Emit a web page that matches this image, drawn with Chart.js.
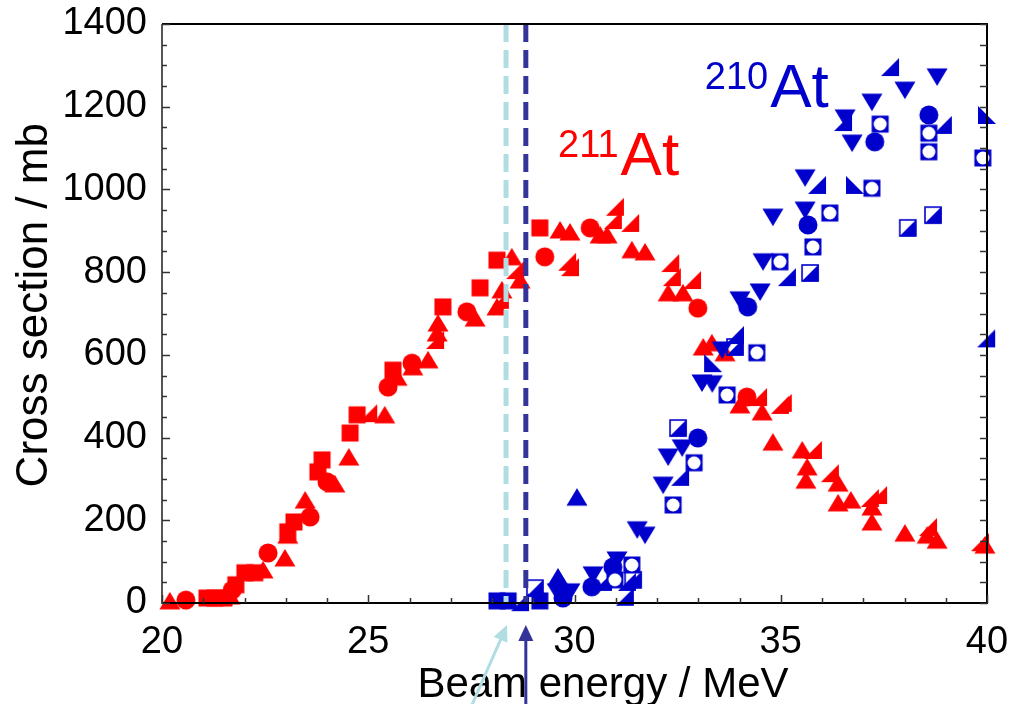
<!DOCTYPE html>
<html>
<head>
<meta charset="utf-8">
<title>Cross section vs beam energy</title>
<script src="https://cdn.jsdelivr.net/npm/chart.js@4.4.1/dist/chart.umd.min.js"></script>
<style>
  html, body { margin: 0; padding: 0; background: #ffffff; }
  #wrap { width: 1011px; height: 704px; }
</style>
</head>
<body>
<div id="wrap"><canvas id="chart" width="1011" height="704"></canvas></div>
<script>
// --- Datos: [energía MeV, sección eficaz mb] ---

// 211At (rojo)
const red211Squares = [
  [21.09, 12], [21.28, 12], [21.5, 12], [21.79, 44], [22.01, 73], [22.25, 73],
  [23.05, 172], [23.2, 196], [23.78, 317], [23.88, 346], [24.56, 411], [24.73, 455],
  [25.6, 563], [26.81, 716], [27.71, 762], [28.12, 829], [29.16, 907]
];
const red211Circles = [
  [20.58, 7], [21.7, 31], [22.57, 121], [23.59, 208], [24.0, 293], [25.48, 522],
  [26.06, 580], [27.39, 704], [29.28, 837], [30.38, 907], [32.99, 713], [34.18, 498]
];
const red211Up = [
  [20.19, 5], [21.65, 17], [22.45, 80], [22.98, 109], [23.05, 164], [23.47, 249],
  [24.19, 288], [24.53, 353], [25.4, 455], [25.7, 546], [26.08, 571], [26.45, 588],
  [26.67, 653], [26.69, 677], [27.59, 689], [28.12, 716], [28.24, 757], [28.48, 837],
  [28.68, 781], [29.65, 902], [29.89, 897], [30.62, 890], [30.79, 890], [31.39, 854],
  [31.71, 849], [32.27, 750], [32.63, 750], [33.12, 619], [33.33, 629], [33.65, 605],
  [34.01, 479], [34.55, 462], [34.81, 389], [35.52, 370], [35.64, 329], [35.61, 297],
  [36.39, 290], [36.39, 242], [36.7, 249], [37.21, 232], [37.21, 196], [38.01, 169],
  [38.55, 164], [38.79, 152], [39.95, 140]
];
const red211RightTri = [
  [25.0, 459], [26.62, 636], [28.19, 733], [28.56, 805], [29.82, 825], [29.89, 812],
  [30.98, 958], [30.93, 926], [31.35, 919], [32.32, 822], [32.36, 788], [32.85, 781],
  [34.45, 498], [34.98, 479], [35.05, 484], [35.78, 370], [36.19, 314], [37.16, 254],
  [37.36, 261], [38.57, 184], [39.83, 147]
];

// 210At (azul)
const blue210Squares = [[28.12, 5], [28.39, 5], [29.16, 5]];
const blue210Down = [
  [29.58, 27], [29.89, 27], [30.45, 68], [31.03, 104], [31.52, 177], [31.71, 164],
  [32.15, 285], [32.27, 353], [32.61, 375], [33.09, 532], [33.34, 530], [33.58, 612],
  [34.01, 733], [34.5, 752], [34.57, 825], [34.81, 933], [35.59, 1028], [35.59, 950],
  [36.56, 1173], [36.73, 1112], [37.21, 1211], [38.01, 1240], [38.79, 1272]
];
const blue210Circles = [
  [29.72, 12], [30.42, 39], [30.93, 87], [32.99, 399], [34.2, 716], [35.66, 914],
  [37.28, 1115], [38.59, 1180]
];
const blue210Ring = [
  [30.98, 56], [31.39, 92], [32.39, 237], [32.9, 339], [33.7, 503], [34.42, 605],
  [34.98, 825], [35.78, 861], [36.19, 943], [37.21, 1003], [37.41, 1158], [38.59, 1136],
  [38.59, 1091], [39.9, 1076]
];
const blue210Half = [
  [29.04, 36], [31.42, 56], [32.51, 423], [33.89, 619], [35.71, 798], [38.08, 907], [38.69, 938]
];
const blue210RightTri = [
  [28.68, 2], [30.69, 51], [31.22, 15], [31.27, 51], [32.56, 305], [33.89, 648],
  [35.15, 788], [35.88, 1011], [36.51, 1163], [37.65, 1296], [38.93, 1156], [39.98, 640]
];
const blue210LeftTri = [[33.36, 580], [36.8, 1011], [40.0, 1180]];
const blue210Up = [[29.6, 63], [30.06, 256]];

// Líneas de referencia (MeV) y etiquetas de isótopos
const refLines = [28.34, 28.82];
const isoLabels = [
  { mass: '211', x: 29.6, y: 1035, color: '#ff0000' },
  { mass: '210', x: 33.16, y: 1199, color: '#0000cc' }
];
const xTitle = 'Beam energy / MeV';
const yTitle = 'Cross section / mb';

const FONT = '"Liberation Sans", Arial, sans-serif';
const RED = '#ff0000';
const BLUE = '#0000cc';
const LIGHT = '#b0dde2';
const DARK = '#333399';

// Marcadores dibujados en canvas pequeños
function marker(kind, color) {
  const s = 24, m = s / 2;
  const c = document.createElement('canvas');
  c.width = s; c.height = s;
  const g = c.getContext('2d');
  g.fillStyle = color; g.strokeStyle = color;
  const tri = (pts) => { g.beginPath(); g.moveTo(pts[0][0], pts[0][1]); pts.slice(1).forEach(p => g.lineTo(p[0], p[1])); g.closePath(); g.fill(); };
  switch (kind) {
    case 'square': g.fillRect(m - 8.5, m - 8.5, 17, 17); break;
    case 'circle': g.beginPath(); g.arc(m, m, 9.5, 0, Math.PI * 2); g.fill(); break;
    case 'up': tri([[m, m - 9], [m + 10.5, m + 8.5], [m - 10.5, m + 8.5]]); break;
    case 'down': tri([[m - 10.5, m - 8.5], [m + 10.5, m - 8.5], [m, m + 9]]); break;
    case 'rtri': tri([[m + 9, m - 9], [m + 9, m + 9], [m - 9, m + 9]]); break;
    case 'ltri': tri([[m - 9, m - 9], [m - 9, m + 9], [m + 9, m + 9]]); break;
    case 'half':
      g.lineWidth = 1.6;
      g.strokeRect(m - 8, m - 8, 16, 16);
      tri([[m + 8.5, m - 8.5], [m + 8.5, m + 8.5], [m - 8.5, m + 8.5]]);
      break;
    case 'ring':
      g.fillRect(m - 8.5, m - 8.5, 17, 17);
      g.fillStyle = '#ffffff';
      g.beginPath(); g.arc(m, m, 6.5, 0, Math.PI * 2); g.fill();
      break;
  }
  return c;
}

const toXY = (arr) => arr.map(p => ({ x: p[0], y: p[1] }));
const ds = (label, arr, kind, color) => ({
  label, data: toXY(arr), pointStyle: marker(kind, color),
  pointRadius: 10, showLine: false, clip: false
});

// Azul primero: Chart.js dibuja el índice 0 al final (encima)
const datasets = [
  ds('210 ring', blue210Ring, 'ring', BLUE),
  ds('210 half', blue210Half, 'half', BLUE),
  ds('210 down', blue210Down, 'down', BLUE),
  ds('210 circle', blue210Circles, 'circle', BLUE),
  ds('210 rtri', blue210RightTri, 'rtri', BLUE),
  ds('210 ltri', blue210LeftTri, 'ltri', BLUE),
  ds('210 up', blue210Up, 'up', BLUE),
  ds('210 square', blue210Squares, 'square', BLUE),
  ds('211 rtri', red211RightTri, 'rtri', RED),
  ds('211 circle', red211Circles, 'circle', RED),
  ds('211 up', red211Up, 'up', RED),
  ds('211 square', red211Squares, 'square', RED)
];

function arrow(c, x0, y0, x1, y1, color) {
  const ang = Math.atan2(y1 - y0, x1 - x0);
  const L = 16, W = 7.5;
  c.save();
  c.strokeStyle = color; c.fillStyle = color; c.lineWidth = 3;
  c.beginPath();
  c.moveTo(x0, y0);
  c.lineTo(x1 - Math.cos(ang) * L * 0.8, y1 - Math.sin(ang) * L * 0.8);
  c.stroke();
  c.beginPath();
  c.moveTo(x1, y1);
  c.lineTo(x1 - L * Math.cos(ang) + W * Math.sin(ang), y1 - L * Math.sin(ang) - W * Math.cos(ang));
  c.lineTo(x1 - L * Math.cos(ang) - W * Math.sin(ang), y1 - L * Math.sin(ang) + W * Math.cos(ang));
  c.closePath();
  c.fill();
  c.restore();
}

// Quita el relleno extra que Chart.js reserva para las etiquetas
const noScalePadding = (s) => { s.paddingTop = 0; s.paddingBottom = 0; s.paddingLeft = 0; s.paddingRight = 0; };

// Plugin: líneas discontinuas, marco con marcas hacia dentro, flechas y etiquetas
const decor = {
  id: 'decor',
  afterDatasetsDraw(chart) {
    const c = chart.ctx;
    const { top, bottom } = chart.chartArea;
    const xs = chart.scales.x;
    c.save();
    c.lineWidth = 5;
    c.setLineDash([18, 8]);
    [LIGHT, DARK].forEach((col, i) => {
      const px = xs.getPixelForValue(refLines[i]);
      c.strokeStyle = col;
      c.beginPath(); c.moveTo(px, top); c.lineTo(px, bottom); c.stroke();
    });
    c.restore();
  },
  afterDraw(chart) {
    const c = chart.ctx;
    const { left, right, top, bottom } = chart.chartArea;
    const xs = chart.scales.x, ys = chart.scales.y;
    c.save();
    // marco
    c.lineWidth = 2;
    c.strokeStyle = '#555555';
    c.beginPath(); c.moveTo(left, top); c.lineTo(left, bottom); c.lineTo(right, bottom); c.stroke();
    c.strokeStyle = '#000000';
    c.beginPath(); c.moveTo(left, bottom); c.lineTo(right, bottom); c.lineTo(right, top); c.lineTo(left, top); c.stroke();
    // marcas
    c.lineWidth = 1.5;
    c.strokeStyle = '#333333';
    for (let v = 0; v <= 1400; v += 50) {
      const py = Math.round(ys.getPixelForValue(v)) + 0.5;
      const len = v % 200 === 0 ? 8 : 5;
      c.beginPath(); c.moveTo(left, py); c.lineTo(left + len, py); c.stroke();
      c.beginPath(); c.moveTo(right, py); c.lineTo(right - 7, py); c.stroke();
    }
    for (let v = 20; v <= 40; v += 1) {
      const px = Math.round(xs.getPixelForValue(v)) + 0.5;
      const len = v % 5 === 0 ? 8 : 5;
      c.beginPath(); c.moveTo(px, bottom); c.lineTo(px, bottom - len); c.stroke();
    }
    c.restore();

    // títulos de ejes
    c.save();
    c.fillStyle = '#000000';
    c.textAlign = 'center';
    c.textBaseline = 'alphabetic';
    c.font = '42px ' + FONT;
    c.fillText(xTitle, xs.getPixelForValue(30.69), bottom + 94);
    c.font = '44px ' + FONT;
    c.translate(47, ys.getPixelForValue(720));
    c.rotate(-Math.PI / 2);
    c.fillText(yTitle, 0, 0);
    c.restore();

    // flechas bajo el eje
    const p0 = xs.getPixelForValue(refLines[0]);
    const p1 = xs.getPixelForValue(refLines[1]);
    arrow(c, p0 - 35, bottom + 104, p0 + 1, bottom + 22, LIGHT);
    arrow(c, p1, bottom + 104, p1, bottom + 22, DARK);

    // etiquetas de isótopos
    c.save();
    c.textBaseline = 'alphabetic';
    c.textAlign = 'left';
    isoLabels.forEach(l => {
      const px = xs.getPixelForValue(l.x);
      const py = ys.getPixelForValue(l.y);
      c.fillStyle = l.color;
      c.font = '38px ' + FONT;
      c.fillText(l.mass, px, py - 18);
      const w = c.measureText(l.mass).width;
      c.font = '62px ' + FONT;
      c.fillText('At', px + w + 2, py);
    });
    c.restore();
  }
};

new Chart(document.getElementById('chart'), {
  type: 'scatter',
  data: { datasets },
  options: {
    responsive: false,
    animation: false,
    devicePixelRatio: 1,
    layout: { padding: { top: 24, right: 24, left: 0, bottom: 0 } },
    plugins: { legend: { display: false }, tooltip: { enabled: false } },
    scales: {
      x: {
        type: 'linear', min: 20, max: 40,
        grid: { display: false, drawTicks: false },
        border: { display: false },
        ticks: { stepSize: 5, color: '#000', padding: 17, maxRotation: 0, font: { family: FONT, size: 38 }, callback: (v) => String(v) },
        afterFit: (s) => { s.height = 101; noScalePadding(s); }
      },
      y: {
        type: 'linear', min: 0, max: 1400,
        grid: { display: false, drawTicks: false },
        border: { display: false },
        ticks: { stepSize: 200, color: '#000', padding: 15, font: { family: FONT, size: 38 }, callback: (v) => String(v) },
        afterFit: (s) => { s.width = 162; noScalePadding(s); }
      }
    }
  },
  plugins: [decor]
});
</script>
</body>
</html>
